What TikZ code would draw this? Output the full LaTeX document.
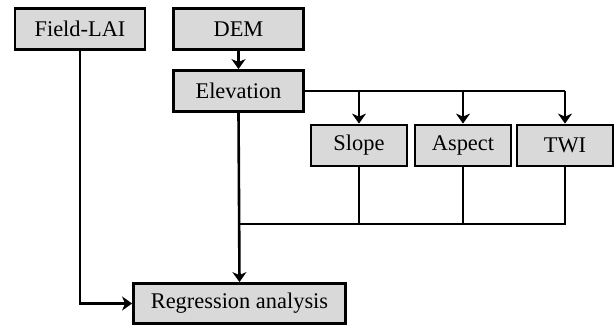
\documentclass[tikz,border=0pt]{standalone}
\usepackage{fontspec}
\setmainfont{Liberation Serif}
\usetikzlibrary{arrows.meta}

\tikzset{
  box/.style={draw=black, line width=1.4pt, fill=gray!30, minimum height=20.5pt, inner sep=0pt, font=\fontsize{11.2}{13}\selectfont},
  widebox/.style={box, minimum width=65pt},
  smallbox/.style={box, minimum width=48pt},
  link/.style={line width=1.3pt, black},
  flow/.style={link, -{Stealth[length=5pt,width=7pt,inset=1.5pt]}}
}

\begin{document}
\begin{tikzpicture}[x=0.5pt, y=-0.5pt]

\useasboundingbox (0,0) rectangle (616,327);

% inputs
\node[widebox] (lai) at (80,29) {Field-LAI};
\node[widebox] (dem) at (238.5,29) {DEM};
\node[widebox] (elev) at (238.5,91) {Elevation};

% derived terrain layers
\node[smallbox] (slope) at (359,145.5) {Slope};
\node[smallbox] (aspect) at (463,145.5) {Aspect};
\node[smallbox] (twi) at (565,145.5) {TWI};

% output
\node[box, minimum width=106pt, minimum height=20pt] (reg) at (239.5,303.5) {Regression analysis};

\draw[flow] (dem) -- (elev);

% elevation to the terrain layers
\draw[link] (elev.east) -- (twi.north |- elev.east);
\draw[flow] (twi.north |- elev.east) -- (twi.north);
\draw[flow] (aspect.north |- elev.east) -- (aspect.north);
\draw[flow] (slope.north |- elev.east) -- (slope.north);

% terrain layers back together
\coordinate (join) at (elev.south |- 0,224);
\draw[link] (twi.south) |- (join);
\draw[link] (aspect.south) -- (aspect.south |- join);
\draw[link] (slope.south) -- (slope.south |- join);
\draw[flow] (elev.south) -- (reg.north);

\draw[flow] (lai.south) |- (reg.west);

\end{tikzpicture}
\end{document}
